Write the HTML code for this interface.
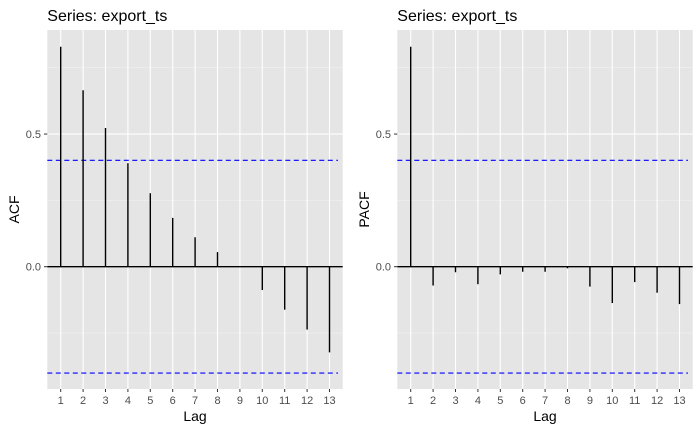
<!DOCTYPE html>
<html><head><meta charset="utf-8"><style>
body{margin:0;background:#fff;}
svg{display:block;font-family:"Liberation Sans",Arial,sans-serif;}
</style></head><body>
<svg id="c" width="700" height="432"></svg>
<script>
const lags=[1,2,3,4,5,6,7,8,9,10,11,12,13];
const acfValues=[0.829,0.665,0.523,0.390,0.277,0.184,0.111,0.055,0.002,-0.088,-0.162,-0.237,-0.323];
const pacfValues=[0.829,-0.071,-0.021,-0.066,-0.029,-0.019,-0.019,-0.006,-0.075,-0.137,-0.058,-0.098,-0.141];
const ciBound=0.401;
const yTicks=[0.0,0.5];
const yTickLabels=["0.0","0.5"];
const yMinor=[-0.25,0.25,0.75];
const panelTitles=["Series: export_ts","Series: export_ts"];
const yTitles=["ACF","PACF"];

const NS="http://www.w3.org/2000/svg";
const svg=document.getElementById('c');
function mk(tag,attrs,parent){const e=document.createElementNS(NS,tag);for(const k in attrs)e.setAttribute(k,attrs[k]);(parent||svg).appendChild(e);return e;}

function panel(off,vals,idx){
  const g=mk('g',{transform:'translate('+off+',0)'});
  
  
  const L=47.3,R=342.7,T=30,B=389;
  const y=v=>266.7-v*265.3;
  const x=l=>60.7+(l-1)*22.4;
  const bg=mk('rect',{x:L,y:T,width:R-L,height:B-T,fill:'#e5e5e5'},g);
  
  yMinor.forEach(v=>mk('line',{x1:L,x2:R,y1:y(v),y2:y(v),stroke:'#f2f2f2','stroke-width':0.6},g));
  yTicks.forEach(v=>mk('line',{x1:L,x2:R,y1:y(v),y2:y(v),stroke:'#fff','stroke-width':1.1},g));
  lags.forEach(l=>mk('line',{x1:x(l),x2:x(l),y1:T,y2:B,stroke:'#fff','stroke-width':1.1},g));
  [ciBound,-ciBound].forEach(v=>{const d=mk('line',{x1:L,x2:338,y1:y(v),y2:y(v),stroke:'#0000ff','stroke-width':1.2,'stroke-dasharray':'5,3.5'},g);
    });
  mk('line',{x1:L,x2:R,y1:y(0),y2:y(0),stroke:'#000','stroke-width':1.4},g);
  vals.forEach((v,i)=>{const s=mk('line',{x1:x(lags[i]),x2:x(lags[i]),y1:y(0),y2:y(v),stroke:'#000','stroke-width':1.4},g);
    });
  yTicks.forEach((v,i)=>{mk('line',{x1:44,x2:L,y1:y(v),y2:y(v),stroke:'#333','stroke-width':1},g);
    const t=mk('text',{x:41,y:y(v)+4,'text-anchor':'end','font-size':'11','fill':'#4d4d4d'},g);t.textContent=yTickLabels[i];
    });
  lags.forEach(l=>{mk('line',{x1:x(l),x2:x(l),y1:B,y2:B+3,stroke:'#333','stroke-width':1},g);
    const t=mk('text',{x:x(l),y:B+15,'text-anchor':'middle','font-size':'11','fill':'#4d4d4d'},g);t.textContent=l;
    });
  const tt=mk('text',{x:L,y:21,'font-size':'16','fill':'#000'},g);tt.textContent=panelTitles[idx];
  
  const xt=mk('text',{x:(L+R)/2,y:421,'text-anchor':'middle','font-size':'14','fill':'#000'},g);xt.textContent='Lag';
  
  const yt=mk('text',{x:0,y:0,transform:'translate(19,'+(T+B)/2+') rotate(-90)','text-anchor':'middle','font-size':'14','fill':'#000'},g);yt.textContent=yTitles[idx];
  
}
panel(0,acfValues,0);
panel(350,pacfValues,1);
</script>
</body></html>
